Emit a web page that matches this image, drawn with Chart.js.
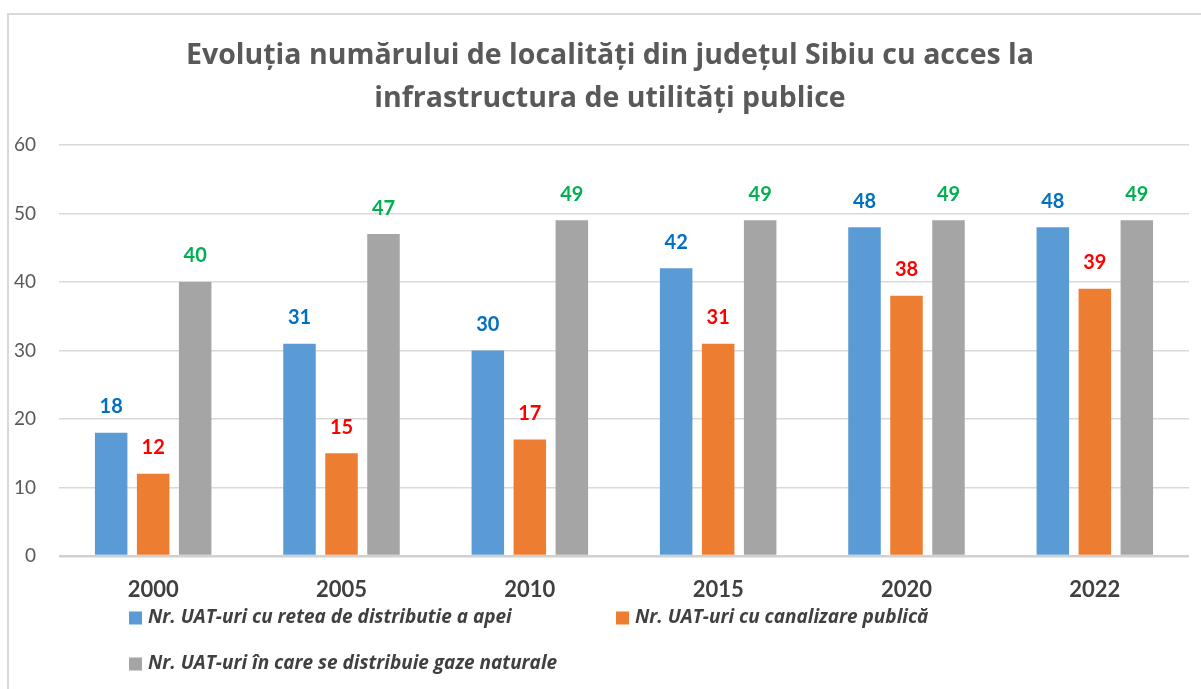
<!DOCTYPE html>
<html><head><meta charset="utf-8">
<script src="https://cdn.jsdelivr.net/npm/chart.js@4"></script>
<style>html,body{margin:0;padding:0;background:#fff;overflow:hidden}#wrap{position:relative;width:1201px;height:689px}</style>
</head><body><div id="wrap"><canvas id="c" width="1201" height="689"></canvas></div>
<script>
const categories = ['2000', '2005', '2010', '2015', '2020', '2022'];
const seriesNames = [
  'Nr. UAT-uri cu retea de distributie a apei',
  'Nr. UAT-uri cu canalizare publică',
  'Nr. UAT-uri în care se distribuie gaze naturale'
];
const waterValues = [18, 31, 30, 42, 48, 48];
const sewerValues = [12, 15, 17, 31, 38, 39];
const gasValues = [40, 47, 49, 49, 49, 49];
const yTicks = [0, 10, 20, 30, 40, 50, 60];
const titleLines = [
  'Evoluția numărului de localități din județul Sibiu cu acces la',
  'infrastructura de utilități publice'
];
const barColors = ['#5B9BD5', '#ED7D31', '#A5A5A5'];
const labelColors = ['#0070C0', '#FF0000', '#00B050'];
const FONT = "Lato, 'Open Sans', sans-serif";
const TEXT_FONT = "'Open Sans', Lato, sans-serif";

const frame = {
  id: 'frame',
  beforeDraw(chart) {
    const ctx = chart.ctx;
    ctx.save();
    ctx.fillStyle = '#ffffff';
    ctx.fillRect(0, 0, chart.width, chart.height);
    ctx.strokeStyle = '#d9d9d9';
    ctx.lineWidth = 2;
    ctx.beginPath();
    ctx.moveTo(8, chart.height + 5);
    ctx.lineTo(8, 14);
    ctx.lineTo(chart.width + 5, 14);
    ctx.stroke();
    ctx.restore();
  }
};

const titleDraw = {
  id: 'titleDraw',
  afterDraw(chart) {
    const ctx = chart.ctx;
    ctx.save();
    ctx.font = 'bold 28.5px ' + TEXT_FONT;
    ctx.fillStyle = '#595959';
    ctx.textAlign = 'center';
    ctx.textBaseline = 'middle';
    titleLines.forEach((t, i) => ctx.fillText(t, 610, 56 + i * 43));
    ctx.restore();
  }
};

const valueLabels = {
  id: 'valueLabels',
  afterDatasetsDraw(chart) {
    const ctx = chart.ctx;
    ctx.save();
    ctx.font = 'bold 20px ' + FONT;
    ctx.textAlign = 'center';
    ctx.textBaseline = 'middle';
    chart.data.datasets.forEach((ds, di) => {
      const meta = chart.getDatasetMeta(di);
      ctx.fillStyle = labelColors[di];
      meta.data.forEach((el, i) => {
        ctx.fillText(String(ds.data[i]), el.x, el.y - 26);
      });
    });
    ctx.restore();
  }
};

const legendDraw = {
  id: 'legendDraw',
  afterDraw(chart) {
    const ctx = chart.ctx;
    const items = [
      { x: 129, y: 618 },
      { x: 616, y: 618 },
      { x: 129, y: 664 }
    ];
    ctx.save();
    ctx.font = 'italic bold 19px ' + TEXT_FONT;
    ctx.textBaseline = 'middle';
    ctx.textAlign = 'left';
    chart.data.datasets.forEach((ds, i) => {
      const p = items[i];
      ctx.fillStyle = ds.backgroundColor;
      ctx.fillRect(p.x, p.y - 6.5, 13, 13);
      ctx.fillStyle = '#404040';
      ctx.fillText(ds.label, p.x + 19, p.y);
    });
    ctx.restore();
  }
};

const seriesValues = [waterValues, sewerValues, gasValues];

new Chart(document.getElementById('c'), {
  type: 'bar',
  data: {
    labels: categories,
    datasets: seriesValues.map((vals, i) => ({
      label: seriesNames[i],
      data: vals,
      backgroundColor: barColors[i],
      borderWidth: 0,
      categoryPercentage: 0.669,
      barPercentage: 0.774
    }))
  },
  options: {
    responsive: false,
    devicePixelRatio: 1,
    animation: false,
    layout: { padding: { left: 8, top: 145, right: 12, bottom: 73 } },
    plugins: {
      legend: { display: false },
      title: { display: false },
      tooltip: { enabled: false }
    },
    scales: {
      x: {
        grid: { display: false },
        border: { display: false },
        ticks: {
          color: '#404040',
          font: { family: FONT, size: 22, weight: 'bold' },
          padding: 13,
          maxRotation: 0
        },
        afterFit(s) { s.height = 60; }
      },
      y: {
        min: 0,
        max: 60,
        afterBuildTicks(s) { s.ticks = yTicks.map(v => ({ value: v })); },
        grid: {
          drawTicks: false,
          color: c => (c.tick && c.tick.value === 0) ? '#d0d0d0' : '#d9d9d9',
          lineWidth: c => (c.tick && c.tick.value === 0) ? 2.5 : 1.5
        },
        border: { display: false },
        ticks: {
          color: '#595959',
          font: { family: FONT, size: 19 },
          padding: 23
        },
        afterFit(s) { s.width = 51; }
      }
    }
  },
  plugins: [frame, valueLabels, titleDraw, legendDraw]
});
</script>
</body></html>
